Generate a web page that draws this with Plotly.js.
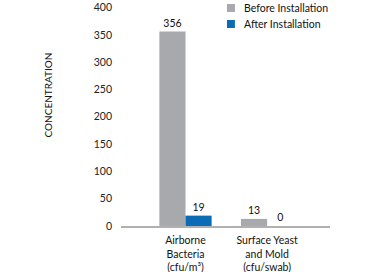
<!DOCTYPE html>
<html><head><meta charset="utf-8">
<script src="https://cdn.plot.ly/plotly-3.0.1.min.js"></script>
<style>html,body{margin:0;padding:0;background:#fff}#chart{width:375px;height:272px}</style>
</head><body><div id="chart"></div>
<script>
const categories = ["Airborne<br>Bacteria<br>(cfu/m³)", "Surface Yeast<br>and Mold<br>(cfu/swab)"];
const beforeValues = [356, 13];
const afterValues = [19, 0];
const seriesNames = ["Before Installation", "After Installation"];
const seriesColors = ["#a7a9ac", "#0b6cb5"];
const yTicks = [0, 50, 100, 150, 200, 250, 300, 350, 400];

const font = "Lato, Open Sans, sans-serif";
const traces = [
  {type: "bar", x: categories, y: beforeValues, name: seriesNames[0],
   marker: {color: seriesColors[0]}, text: beforeValues.map(String), textposition: "outside",
   textfont: {size: 10.5, color: "#111", family: font}, cliponaxis: false},
  {type: "bar", x: categories, y: afterValues, name: seriesNames[1],
   marker: {color: seriesColors[1]}, text: afterValues.map(String), textposition: "outside",
   textfont: {size: 10.5, color: "#111", family: font}, cliponaxis: false}
];

// custom legend (squares + labels) placed in paper coordinates
const legendX0 = 0.507, legendX1 = 0.545, legendTextX = 0.584;
const legendRows = [[1.0137, 0.9772], [0.9406, 0.9041]];
const shapes = [], annotations = [];
seriesNames.forEach((n, i) => {
  const [yt, yb] = legendRows[i];
  shapes.push({type: "rect", xref: "paper", yref: "paper", x0: legendX0, x1: legendX1,
               y0: yb, y1: yt, fillcolor: seriesColors[i], line: {width: 0}});
  annotations.push({text: n, xref: "paper", yref: "paper", x: legendTextX, y: (yt + yb) / 2,
                    xanchor: "left", yanchor: "middle", showarrow: false, borderpad: 0,
                    font: {size: 10.5, color: "#111", family: font}});
});
annotations.push({text: "CONCENTRATION", xref: "paper", yref: "paper", x: -0.35, y: 0.6,
                  showarrow: false, textangle: -90, font: {size: 10, color: "#111", family: font},
                  xanchor: "center", yanchor: "middle"});

const layout = {
  width: 375, height: 272,
  margin: {l: 121, r: 45, t: 7, b: 46},
  paper_bgcolor: "#fff", plot_bgcolor: "#fff",
  font: {family: font, size: 10.5, color: "#222"},
  barmode: "group", bargap: 0.36, bargroupgap: 0,
  showlegend: false,
  xaxis: {type: "category", range: [-0.79, 1.77], showline: true, linecolor: "#b0b0b0",
          linewidth: 1.5, ticks: "", showgrid: false, ticklabelstandoff: 4,
          tickfont: {size: 10.5, color: "#111", family: font}},
  yaxis: {range: [0, 401], tickvals: yTicks, showgrid: false, zeroline: false, showline: false,
          ticks: "", ticklabelstandoff: 8, automargin: false,
          tickfont: {size: 10.5, color: "#222", family: font}},
  shapes: shapes,
  annotations: annotations
};
Plotly.newPlot("chart", traces, layout, {displayModeBar: false, staticPlot: true});
</script></body></html>
